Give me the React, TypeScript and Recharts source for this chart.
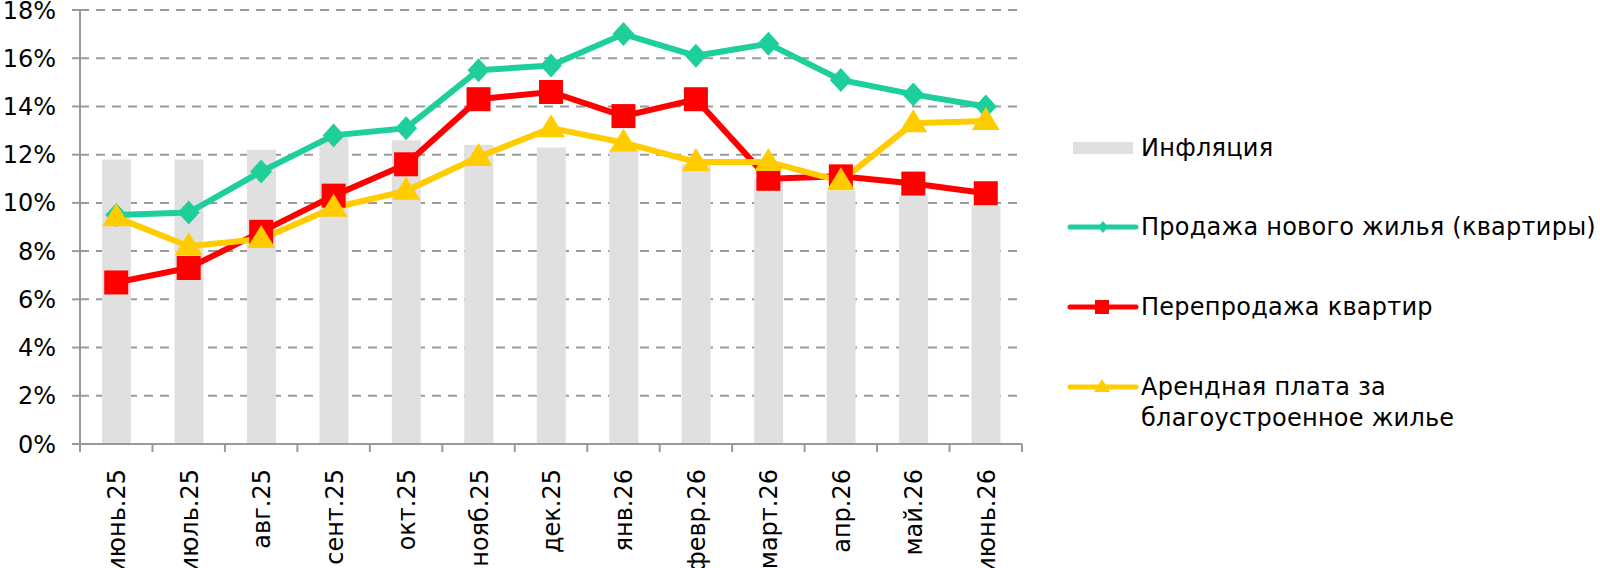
import React from 'react';
import {
    ComposedChart,
    Bar,
    Line,
    XAxis,
    YAxis,
    CartesianGrid,
} from 'recharts';

const months = [
    'июнь.25', 'июль.25', 'авг.25', 'сент.25', 'окт.25', 'нояб.25', 'дек.25',
    'янв.26', 'февр.26', 'март.26', 'апр.26', 'май.26', 'июнь.26',
];
const inflation = [11.8, 11.8, 12.2, 12.7, 12.6, 12.4, 12.3, 12.2, 11.6, 11.0, 10.5, 10.3, 9.9];
const newHomes = [9.5, 9.6, 11.3, 12.8, 13.1, 15.5, 15.7, 17.0, 16.1, 16.6, 15.1, 14.5, 14.0];
const resale = [6.7, 7.3, 8.8, 10.3, 11.6, 14.3, 14.6, 13.6, 14.3, 11.0, 11.1, 10.8, 10.4];
const rent = [9.4, 8.2, 8.5, 9.8, 10.5, 11.9, 13.1, 12.5, 11.7, 11.7, 10.9, 13.3, 13.4];
const yTicks = [0, 2, 4, 6, 8, 10, 12, 14, 16, 18];

const GREEN = '#1ecf9c';
const RED = '#ff0000';
const YELLOW = '#ffcc00';
const BAR = '#e0e0e0';
const AXIS = '#9a9a9a';
const FONT = 'DejaVu Sans, Verdana, sans-serif';

const data = months.map((m, i) => ({
    month: m,
    inflation: inflation[i],
    newHomes: newHomes[i],
    resale: resale[i],
    rent: rent[i],
}));

const Diamond = ({ cx, cy }: any) => (
    <path d={`M${cx},${cy - 12}L${cx + 11},${cy}L${cx},${cy + 12}L${cx - 11},${cy}Z`} fill={GREEN} />
);
const Square = ({ cx, cy }: any) => (
    <rect x={cx - 12} y={cy - 12} width={24} height={24} fill={RED} />
);
const Triangle = ({ cx, cy }: any) => (
    <path d={`M${cx},${cy - 14}L${cx + 14},${cy + 9}L${cx - 14},${cy + 9}Z`} fill={YELLOW} />
);

// category ticks sit on the band edges, labels run bottom-to-top
const MonthTick = ({ x, y, payload, index, band }: any) => {
    const half = band / 2;
    return (
        <g>
            <line x1={x - half} y1={y - 8} x2={x - half} y2={y} stroke={AXIS} strokeWidth={2} />
            {index === months.length - 1 && (
                <line x1={x + half} y1={y - 8} x2={x + half} y2={y} stroke={AXIS} strokeWidth={2} />
            )}
            <text
                x={x + 9}
                y={y + 17}
                transform={`rotate(-90 ${x + 9} ${y + 17})`}
                textAnchor="end"
                fontSize={24}
                fontFamily={FONT}
                fill="#000"
            >
                {payload.value}
            </text>
        </g>
    );
};

const LegendBox = () => {
    const items = [
        { label: ['Инфляция'], y: 18, kind: 'bar' },
        { label: ['Продажа нового жилья (квартиры)'], y: 97, kind: 'green' },
        { label: ['Перепродажа квартир'], y: 177, kind: 'red' },
        { label: ['Арендная плата за', 'благоустроенное жилье'], y: 257, kind: 'yellow' },
    ];
    return (
        <svg width={540} height={320} style={{ fontFamily: FONT }}>
            {items.map((it) => (
                <g key={it.kind}>
                    {it.kind === 'bar' && <rect x={13} y={it.y - 6} width={60} height={12} fill={BAR} />}
                    {it.kind === 'green' && (
                        <g>
                            <line x1={10} y1={it.y} x2={76} y2={it.y} stroke={GREEN} strokeWidth={5} strokeLinecap="round" />
                            <path d={`M43,${it.y - 6}L48,${it.y}L43,${it.y + 6}L38,${it.y}Z`} fill={GREEN} />
                        </g>
                    )}
                    {it.kind === 'red' && (
                        <g>
                            <line x1={10} y1={it.y} x2={76} y2={it.y} stroke={RED} strokeWidth={5} strokeLinecap="round" />
                            <rect x={35} y={it.y - 7} width={14} height={14} fill={RED} />
                        </g>
                    )}
                    {it.kind === 'yellow' && (
                        <g>
                            <line x1={10} y1={it.y} x2={76} y2={it.y} stroke={YELLOW} strokeWidth={5} strokeLinecap="round" />
                            <path d={`M42,${it.y - 8}L50,${it.y + 5}L34,${it.y + 5}Z`} fill={YELLOW} />
                        </g>
                    )}
                    {it.label.map((l, j) => (
                        <text key={j} x={81} y={it.y + 8 + j * 31} fontSize={24} letterSpacing={0.25} fill="#000">
                            {l}
                        </text>
                    ))}
                </g>
            ))}
        </svg>
    );
};

export default function App() {
    const left = 80;
    const right = 578;
    const band = (1600 - left - right) / months.length;
    return (
        <div style={{ position: 'absolute', left: 0, top: 0, width: 1600, height: 568 }}>
            <ComposedChart
                width={1600}
                height={568}
                data={data}
                margin={{ top: 10, right: right, bottom: 0, left: 0 }}
                style={{ fontFamily: FONT }}
            >
                <CartesianGrid vertical={false} stroke={AXIS} strokeWidth={2} strokeDasharray="9 7" />
                <XAxis
                    dataKey="month"
                    interval={0}
                    height={124}
                    axisLine={{ stroke: AXIS, strokeWidth: 2 }}
                    tickLine={false}
                    tick={<MonthTick band={band} />}
                />
                <YAxis
                    width={left}
                    domain={[0, 18]}
                    ticks={yTicks}
                    interval={0}
                    tickFormatter={(v) => `${v}%`}
                    axisLine={{ stroke: AXIS, strokeWidth: 2 }}
                    tickLine={{ stroke: AXIS, strokeWidth: 2 }}
                    tickSize={8}
                    tick={{ fontSize: 24, fill: '#000', fontFamily: FONT, dx: -14 }}
                />
                <Bar dataKey="inflation" name="Инфляция" fill={BAR} barSize={29} isAnimationActive={false} />
                <Line
                    dataKey="newHomes"
                    name="Продажа нового жилья (квартиры)"
                    stroke={GREEN}
                    strokeWidth={6}
                    dot={<Diamond />}
                    activeDot={false}
                    isAnimationActive={false}
                />
                <Line
                    dataKey="resale"
                    name="Перепродажа квартир"
                    stroke={RED}
                    strokeWidth={6}
                    dot={<Square />}
                    activeDot={false}
                    isAnimationActive={false}
                />
                <Line
                    dataKey="rent"
                    name="Арендная плата за благоустроенное жилье"
                    stroke={YELLOW}
                    strokeWidth={6}
                    dot={<Triangle />}
                    activeDot={false}
                    isAnimationActive={false}
                />
            </ComposedChart>
            <div style={{ position: 'absolute', left: 1060, top: 130 }}>
                <LegendBox />
            </div>
        </div>
    );
}
